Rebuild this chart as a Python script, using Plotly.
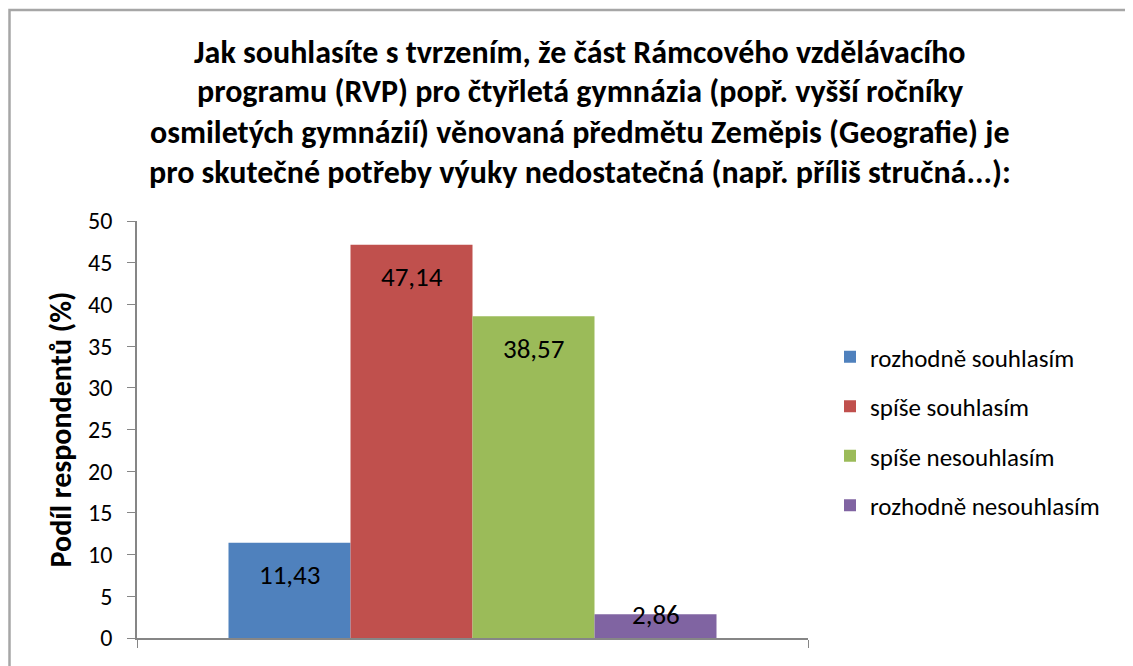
import plotly.graph_objects as go

title_lines = [
    "Jak souhlasíte s tvrzením, že část Rámcového vzdělávacího",
    "programu (RVP) pro čtyřletá gymnázia (popř. vyšší ročníky",
    "osmiletých gymnázií) věnovaná předmětu Zeměpis (Geografie) je",
    "pro skutečné potřeby výuky nedostatečná (např. příliš stručná...):",
]
series = ["rozhodně souhlasím", "spíše souhlasím", "spíše nesouhlasím", "rozhodně nesouhlasím"]
values = [11.43, 47.14, 38.57, 2.86]
labels = ["11,43", "47,14", "38,57", "2,86"]
colors = ["#4F81BD", "#C0504D", "#9BBB59", "#8064A2"]

FONT = "Carlito, Lato, sans-serif"
# page body has an 8px margin, so the figure is a bit smaller and everything is shifted
OFF = 8
W, H = 1133 - OFF, 666 - OFF
PL, PR, PT, PB = 137, 808, 221, 638  # plot area in screen pixels
L, T = PL - OFF, PT - OFF
R, B = W - (PR - OFF), H - (PB - OFF)
pw, ph = PR - PL, PB - PT

fig = go.Figure()
for name, val, col in zip(series, values, colors):
    fig.add_trace(go.Bar(
        x=[""], y=[val], name=name, legendgroup=name,
        marker=dict(color=col, line=dict(width=0)),
        hoverinfo="skip",
    ))

# data labels: Excel puts them inside near the top, small bars get them on the edge
bargap = 1 - 488 / pw
n = len(values)
bw = (1 - bargap) / n
for i, (val, lab) in enumerate(zip(values, labels)):
    xc = -(1 - bargap) / 2 + bw * (i + 0.5)
    fig.add_annotation(
        x=xc, y=val, xref="x", yref="y", text=lab, showarrow=False,
        yanchor="middle", yshift=-32 if val > 5 else 0,
        font=dict(family=FONT, size=27, color="#000000"),
    )

# title lines
for i, line in enumerate(title_lines):
    fig.add_annotation(
        x=(580 - PL) / pw, xref="paper", y=(PB - (52 + 40 * i)) / ph, yref="paper",
        xanchor="center", yanchor="middle", text=f"<b>{line}</b>", showarrow=False,
        font=dict(family=FONT, size=32, color="#000000"),
    )

# outer chart frame
fig.add_shape(
    type="rect", xref="paper", yref="paper",
    x0=(9.5 - PL) / pw, x1=(1200 - PL) / pw,
    y0=(PB - 720) / ph, y1=(PB - 10) / ph,
    line=dict(color="#A6A6A6", width=2.5), fillcolor="rgba(0,0,0,0)", layer="below",
)

fig.update_layout(
    width=W, height=H,
    margin=dict(l=L, r=R, t=T, b=B),
    paper_bgcolor="white", plot_bgcolor="white",
    barmode="group", bargap=bargap, bargroupgap=0,
    font=dict(family=FONT, size=24, color="#000000"),
    showlegend=True,
    legend=dict(
        x=(830 - PL) / pw, xanchor="left", y=(PB - 431) / ph, yanchor="middle",
        font=dict(family=FONT, size=25, color="#000000"),
        tracegroupgap=14, itemwidth=30, bgcolor="rgba(0,0,0,0)",
    ),
)
fig.update_xaxes(
    type="category", range=[-0.5, 0.5], showticklabels=False,
    showline=True, linecolor="#868686", linewidth=1.5,
    ticks="outside", tickson="boundaries", ticklen=8, tickcolor="#868686",
    showgrid=False, zeroline=False,
)
fig.update_yaxes(
    range=[0, 50], dtick=5, tick0=0,
    showline=True, linecolor="#868686", linewidth=1.5,
    ticks="outside", ticklen=8, tickcolor="#868686",
    ticklabelstandoff=10,
    showgrid=False, zeroline=False,
    tickfont=dict(family=FONT, size=24, color="#000000"),
    title=dict(text="<b>Podíl respondentů (%)</b>", font=dict(family=FONT, size=30), standoff=8),
)

fig.write_html("out.html")
